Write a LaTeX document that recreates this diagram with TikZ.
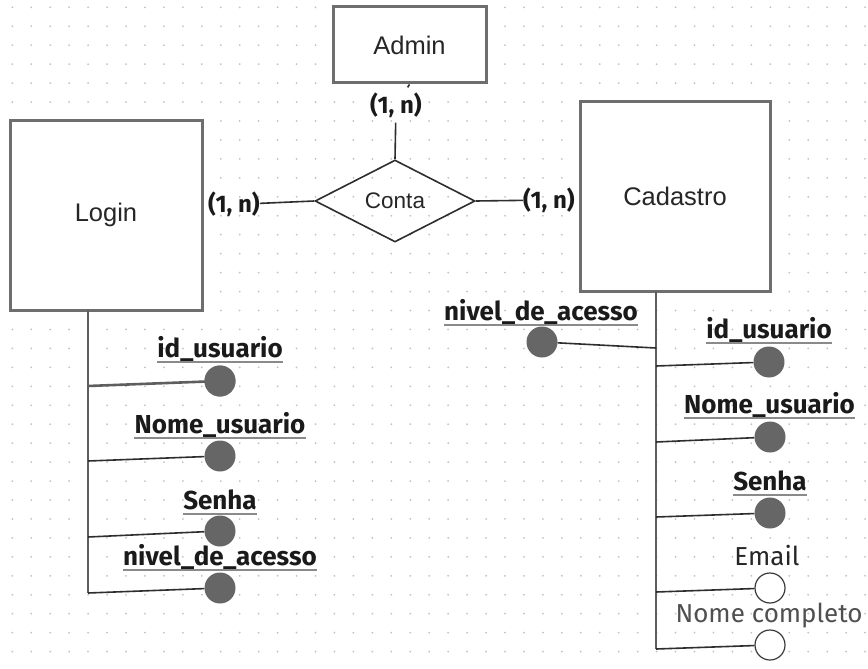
\documentclass[tikz,border=0pt]{standalone}
\usepackage{fontspec}
\setmainfont{Liberation Sans}
\newfontfamily\fira{Fira Sans}
\usetikzlibrary{shapes.geometric}

\definecolor{gridc}{HTML}{C2C2C2}
\definecolor{boxc}{HTML}{6E6E6E}
\definecolor{linec}{HTML}{2E2E2E}
\definecolor{stemc}{HTML}{5E5E5E}
\definecolor{keyc}{HTML}{666666}
\definecolor{openc}{HTML}{3A3A3A}
\definecolor{txtc}{HTML}{1A1A1A}
\definecolor{entc}{HTML}{262626}
\definecolor{ulc}{HTML}{8A8A8A}
\definecolor{softc}{HTML}{505050}

\newcommand{\entfont}{\fontsize{25.5}{30}\selectfont}
\newcommand{\relfont}{\fontsize{22.5}{27}\selectfont}
\newcommand{\cardfont}{\fira\bfseries\fontsize{24}{28}\selectfont}
\newcommand{\keyfont}{\fira\bfseries\fontsize{26}{30}\selectfont}
\newcommand{\attfont}{\fira\fontsize{26}{30}\selectfont}

\begin{document}
\begin{tikzpicture}[x=1pt,y=-1pt,
  entity/.style={draw=boxc, line width=3pt, fill=white, inner sep=0pt,
                 font=\entfont, text=entc},
  rel/.style={shape=diamond, draw=linec, line width=1.6pt, inner sep=0pt,
              minimum width=160pt, minimum height=82pt, font=\relfont, text=entc},
  card/.style={font=\cardfont, text=txtc, inner xsep=0pt, inner ysep=5pt},
  keydot/.style={circle, fill=keyc, minimum size=31pt, inner sep=0pt},
  opendot/.style={circle, draw=openc, line width=1.2pt, fill=white,
                  minimum size=30pt, inner sep=0pt},
  klabel/.style={font=\keyfont, text=txtc, inner sep=0pt, anchor=base},
  alabel/.style={font=\attfont, inner sep=0pt, anchor=base},
  stem/.style={draw=stemc, line width=2.6pt},
  branch/.style={draw=linec, line width=1.6pt},
  uline/.style={draw=ulc, line width=2pt},
]
% canvas and dot grid
\useasboundingbox (0,0) rectangle (868,669);
\fill[white] (0,0) rectangle (868,669);
\foreach \i in {0,...,45}{
  \foreach \j in {0,...,35}{
    \fill[gridc] ({12.3+18.95*\i},{7.3+18.95*\j}) circle (1pt);
  }
}

% entities and relationship
\node[entity, minimum width=153pt, minimum height=76pt] (admin) at (409.5,45) {Admin};
\node[entity, minimum width=192pt, minimum height=190pt] (login) at (106,215) {Login};
\node[entity, minimum width=190pt, minimum height=189pt] (cadastro) at (675,196.5) {Cadastro};
\node[rel] (conta) at (395,201) {Conta};

% cardinalities
\node[card] (cardA) at (396,105) {(1, n)};
\node[card] (cardL) at (234,204.5) {(1, n)};
\node[card] (cardC) at (549,200) {(1, n)};

\draw[branch] (admin.south) -- (cardA);
\draw[branch] (cardA) -- (conta.north);
\draw[branch] (conta.west) -- (cardL);
\draw[branch] (conta.east) -- (cardC);

% Login attributes
\coordinate (lt) at (88,310);
\coordinate (lb) at (88,593);
\coordinate (l1) at (88,386);
\coordinate (l2) at (88,461);
\coordinate (l3) at (88,537);
\draw[stem] (lt) -- (lb);

\node[keydot] (lk1) at (220,381) {};
\node[keydot] (lk2) at (220,456) {};
\node[keydot] (lk3) at (220,531) {};
\node[keydot] (lk4) at (220,588) {};
\draw[stem] (l1) -- (lk1.center);
\draw[branch] (l2) -- (lk2);
\draw[branch] (l3) -- (lk3);
\draw[branch] (lb) -- (lk4);
\node[keydot] at (lk1) {};

\node[klabel] (lt1) at (220,357) {id\_usuario};
\node[klabel] (lt2) at (220,433) {Nome\_usuario};
\node[klabel] (lt3) at (220,509) {Senha};
\node[klabel] (lt4) at (220,565) {nivel\_de\_acesso};
\foreach \n in {lt1,lt2,lt3,lt4}{
  \draw[uline] ([yshift=-4.5pt]\n.base west) -- ([yshift=-4.5pt]\n.base east);
}

% Cadastro attributes
\coordinate (rt) at (656,291);
\coordinate (rb) at (656,649);
\coordinate (r0) at (656,348);
\coordinate (r1) at (656,366);
\coordinate (r2) at (656,442);
\coordinate (r3) at (656,517);
\coordinate (r4) at (656,592);
\draw[stem] (rt) -- (rb);

\node[keydot] (rk0) at (542,342) {};
\node[keydot] (rk1) at (769,362) {};
\node[keydot] (rk2) at (770,437) {};
\node[keydot] (rk3) at (770,513) {};
\node[opendot] (ra4) at (770,588) {};
\node[opendot] (ra5) at (770,645) {};
\draw[branch] (r0) -- (rk0);
\draw[branch] (r1) -- (rk1);
\draw[branch] (r2) -- (rk2);
\draw[branch] (r3) -- (rk3);
\draw[branch] (r4) -- (ra4);
\draw[branch] (rb) -- (ra5);

\node[klabel] (rt0) at (541,320) {nivel\_de\_acesso};
\node[klabel] (rt1) at (769,338) {id\_usuario};
\node[klabel] (rt2) at (769.5,413) {Nome\_usuario};
\node[klabel] (rt3) at (770,490) {Senha};
\foreach \n in {rt0,rt1,rt2,rt3}{
  \draw[uline] ([yshift=-4.5pt]\n.base west) -- ([yshift=-4.5pt]\n.base east);
}
\node[alabel, text=entc] (rt4) at (767,565) {Email};
\node[alabel, text=softc] (rt5) at (769,622) {Nome completo};
\end{tikzpicture}
\end{document}
